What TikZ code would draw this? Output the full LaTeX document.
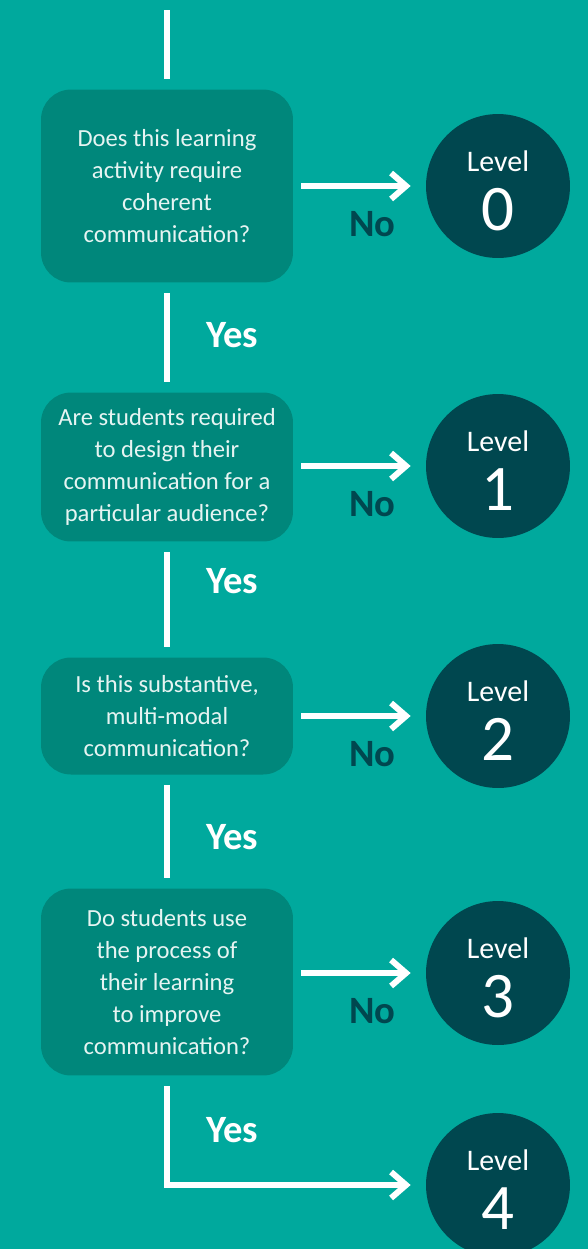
\documentclass[tikz,border=0pt]{standalone}
\usepackage{fontspec}
\setmainfont{Carlito}
\usetikzlibrary{arrows.meta,calc,positioning}
\definecolor{bgteal}{HTML}{00A99D}
\definecolor{boxteal}{HTML}{00877B}
\definecolor{darkteal}{HTML}{00474F}
\definecolor{boxtext}{HTML}{E6F4F2}
\begin{document}
\begin{tikzpicture}[x=0.02cm, y=-0.02cm,
  question/.style={rectangle, rounded corners=0.6cm, fill=boxteal, text=boxtext,
    minimum width=5.04cm, align=center, inner sep=0pt,
    font=\fontsize{14}{18.1}\selectfont},
  level/.style={circle, fill=darkteal, minimum size=2.88cm, inner sep=0pt},
  lvltxt/.style={text=white, anchor=base, font=\fontsize{17}{20}\selectfont},
  digit/.style={text=white, anchor=base, font=\fontsize{37}{37}\selectfont},
  flow/.style={white, line width=3.4pt},
  barb/.style={-{Straight Barb[length=0.3cm, width=0.52cm]}},
  yeslbl/.style={text=white, anchor=base, font=\fontsize{22}{24}\selectfont\bfseries},
  nolbl/.style={text=darkteal, anchor=base, font=\fontsize{22}{24}\selectfont\bfseries}]

  % background and page size
  \useasboundingbox (0,0) rectangle (588,1249);
  \clip (0,0) rectangle (588,1249);
  \fill[bgteal] (0,0) rectangle (588,1249);

  % questions
  \node[question, minimum height=3.86cm] (q1) at (167,186)
    {Does this learning\\activity require\\coherent\\communication?};
  \node[question, minimum height=2.98cm] (q2) at (167,467)
    {Are students required\\to design their\\communication for a\\particular audience?};
  \node[question, minimum height=2.34cm] (q3) at (167,716)
    {Is this substantive,\\multi-modal\\communication?};
  \node[question, minimum height=3.74cm] (q4) at (167,982)
    {Do students use\\the process of\\their learning\\to improve\\communication?};

  % levels
  \foreach \i/\y in {0/186,1/466,2/716,3/973,4/1185} {
    \node[level] (l\i) at (498,\y) {};
    \node[lvltxt] at ($(l\i)+(0,-15)$) {Level};
    \node[digit] at ($(l\i)+(0,44)$) {\i};
  }

  % entry line
  \coordinate (start) at (167,10);
  \draw[flow, shorten >=0.2cm] (start) -- (q1.north);

  % yes connectors
  \foreach \i in {1,2,3} {
    \pgfmathtruncatemacro\j{\i+1}
    \draw[flow, shorten <=0.2cm, shorten >=0.2cm] (q\i.south) -- (q\j.north);
  }

  % no arrows
  \foreach \i in {1,...,4} {
    \pgfmathtruncatemacro\j{\i-1}
    \draw[flow, barb, shorten <=0.16cm, shorten >=0.3cm] (q\i.east |- l\j) -- (l\j);
    \node[nolbl] at ($(q\i.east |- l\j)+(79,50)$) {No};
  }

  % last yes to level 4
  \coordinate (turn) at (q4.south |- l4);
  \draw[flow, barb, shorten <=0.2cm, shorten >=0.3cm] (q4.south) -- (turn) -- (l4);

  % yes labels
  \foreach \y in {347,593,849,1142} {
    \node[yeslbl] at (232,\y) {Yes};
  }

\end{tikzpicture}
\end{document}
